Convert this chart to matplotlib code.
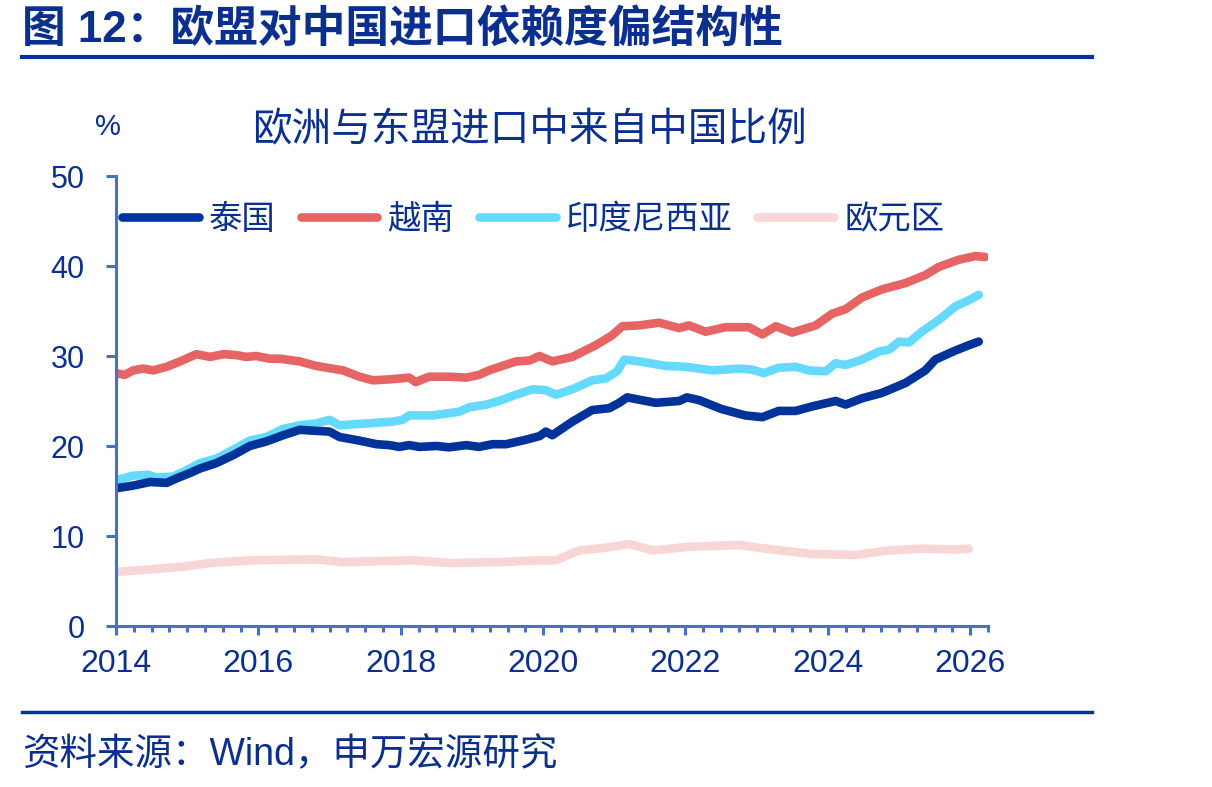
import matplotlib
matplotlib.use('Agg')
import matplotlib.pyplot as plt
from matplotlib.ticker import MultipleLocator
from matplotlib.lines import Line2D

plt.rcParams['font.family'] = ['Liberation Sans', 'Noto Sans CJK SC']

# values (decimal year, % of imports from China)
thai_x = [2014.0, 2014.24, 2014.48, 2014.71, 2014.85, 2015.04, 2015.18, 2015.41, 2015.65, 2015.88,
          2016.11, 2016.35, 2016.58, 2016.77, 2017.0, 2017.14, 2017.42, 2017.66, 2017.84, 2017.98,
          2018.12, 2018.26, 2018.5, 2018.68, 2018.92, 2019.1, 2019.29, 2019.48, 2019.76, 2019.95,
          2020.04, 2020.13, 2020.41, 2020.69, 2020.93, 2021.07, 2021.18, 2021.58, 2021.91, 2022.02,
          2022.19, 2022.51, 2022.84, 2023.08, 2023.31, 2023.55, 2023.78, 2024.11, 2024.25, 2024.48,
          2024.76, 2025.09, 2025.37, 2025.51, 2025.79, 2025.98, 2026.12]
thai_y = [15.3, 15.6, 16.0, 15.9, 16.4, 17.0, 17.5, 18.1, 19.0, 20.0,
          20.5, 21.2, 21.8, 21.7, 21.6, 21.0, 20.6, 20.2, 20.1, 19.9,
          20.1, 19.9, 20.0, 19.85, 20.1, 19.9, 20.2, 20.2, 20.7, 21.1,
          21.6, 21.2, 22.7, 24.0, 24.2, 24.8, 25.4, 24.8, 25.0, 25.4,
          25.1, 24.1, 23.4, 23.2, 23.9, 23.9, 24.4, 25.0, 24.6, 25.3,
          25.9, 27.0, 28.4, 29.6, 30.6, 31.2, 31.6]

vn_x = [2014.0, 2014.12, 2014.24, 2014.38, 2014.52, 2014.71, 2014.9, 2015.13, 2015.32, 2015.51,
        2015.69, 2015.83, 2015.97, 2016.16, 2016.3, 2016.58, 2016.81, 2017.19, 2017.42, 2017.61,
        2017.84, 2018.12, 2018.21, 2018.4, 2018.68, 2018.92, 2019.1, 2019.24, 2019.43, 2019.62,
        2019.81, 2019.95, 2020.13, 2020.41, 2020.74, 2020.97, 2021.11, 2021.35, 2021.63, 2021.91,
        2022.05, 2022.28, 2022.56, 2022.89, 2023.08, 2023.27, 2023.5, 2023.83, 2024.06, 2024.25,
        2024.48, 2024.76, 2025.09, 2025.37, 2025.56, 2025.84, 2026.07, 2026.21]
vn_y = [28.1, 27.9, 28.4, 28.6, 28.4, 28.8, 29.4, 30.2, 29.9, 30.2,
        30.1, 29.9, 30.0, 29.7, 29.7, 29.4, 28.9, 28.4, 27.7, 27.3,
        27.4, 27.6, 27.1, 27.7, 27.7, 27.6, 27.9, 28.4, 28.9, 29.4,
        29.5, 30.0, 29.4, 29.9, 31.2, 32.3, 33.3, 33.4, 33.7, 33.1,
        33.4, 32.7, 33.2, 33.2, 32.4, 33.3, 32.6, 33.4, 34.7, 35.2,
        36.5, 37.4, 38.1, 39.0, 39.9, 40.7, 41.1, 41.0]

idn_x = [2014.0, 2014.24, 2014.45, 2014.57, 2014.8, 2014.99, 2015.18, 2015.41, 2015.65, 2015.88,
         2016.11, 2016.35, 2016.58, 2016.81, 2017.0, 2017.14, 2017.5, 2017.88, 2018.02, 2018.12,
         2018.45, 2018.82, 2018.96, 2019.2, 2019.38, 2019.62, 2019.85, 2020.04, 2020.18, 2020.41,
         2020.69, 2020.88, 2021.04, 2021.14, 2021.35, 2021.72, 2022.0, 2022.38, 2022.75, 2022.93,
         2023.1, 2023.31, 2023.55, 2023.73, 2023.97, 2024.11, 2024.25, 2024.48, 2024.72, 2024.86,
         2025.0, 2025.14, 2025.32, 2025.56, 2025.79, 2025.98, 2026.12]
idn_y = [16.2, 16.7, 16.8, 16.5, 16.6, 17.3, 18.1, 18.6, 19.6, 20.6,
         21.0, 21.9, 22.3, 22.5, 22.9, 22.3, 22.5, 22.7, 22.9, 23.4,
         23.4, 23.8, 24.3, 24.6, 25.0, 25.7, 26.3, 26.2, 25.7, 26.3,
         27.3, 27.5, 28.3, 29.6, 29.4, 28.9, 28.8, 28.4, 28.6, 28.5,
         28.1, 28.7, 28.8, 28.4, 28.3, 29.2, 29.0, 29.6, 30.5, 30.7,
         31.6, 31.5, 32.7, 34.0, 35.5, 36.2, 36.8]

ez_x = [2014.0, 2014.48, 2014.95, 2015.32, 2015.88, 2016.81, 2017.19, 2018.17, 2018.68, 2019.38,
        2019.95, 2020.18, 2020.51, 2020.88, 2021.21, 2021.54, 2022.05, 2022.75, 2023.22, 2023.78,
        2024.39, 2024.86, 2025.32, 2025.79, 2025.98]
ez_y = [6.0, 6.3, 6.6, 7.0, 7.3, 7.4, 7.1, 7.3, 7.0, 7.1,
        7.3, 7.3, 8.4, 8.7, 9.1, 8.4, 8.8, 9.0, 8.5, 8.0,
        7.9, 8.4, 8.6, 8.5, 8.6]

names = ['泰国', '越南', '印度尼西亚', '欧元区']
colors = ['#003399', '#E66464', '#66D9FF', '#F8D6D6']

navy = '#0A2F8F'
spine = '#4472C4'

fig = plt.figure(figsize=(12.12, 7.87), dpi=100)
ax = fig.add_axes([116 / 1212, 1 - 626 / 787, (988 - 116) / 1212, (626 - 176) / 787])

series = [(thai_x, thai_y), (vn_x, vn_y), (idn_x, idn_y), (ez_x, ez_y)]
# draw euro area first so it sits underneath
for i in [3, 2, 1, 0]:
    xs, ys = series[i]
    ax.plot(xs, ys, color=colors[i], lw=6.2, solid_capstyle='round', solid_joinstyle='round')

ax.set_xlim(2014, 2026.25)
ax.set_ylim(0, 50)
ax.xaxis.set_major_locator(MultipleLocator(2))
ax.xaxis.set_minor_locator(MultipleLocator(0.25))
ax.yaxis.set_major_locator(MultipleLocator(10))
ax.xaxis.set_major_formatter(plt.FuncFormatter(lambda v, p: '%d' % round(v)))

for s in ['top', 'right']:
    ax.spines[s].set_visible(False)
for s in ['left', 'bottom']:
    ax.spines[s].set_color(spine)
    ax.spines[s].set_linewidth(2.2)
ax.tick_params(axis='both', which='major', color=spine, width=2.2, length=7.5,
               labelsize=22, labelcolor=navy)
ax.tick_params(axis='y', which='major', pad=15)
ax.tick_params(axis='x', which='major', length=6.5, pad=10, labelsize=23)
ax.tick_params(axis='x', which='minor', color=spine, width=2.2, length=4.5)

handles = [Line2D([], [], color=c, lw=6.2, solid_capstyle='round') for c in colors]
leg = ax.legend(handles, names, loc='center left', bbox_to_anchor=(0.007, 0.902), ncol=4,
                frameon=False, fontsize=24, handlelength=2.3, handletextpad=0.3,
                columnspacing=0.75, borderaxespad=0, borderpad=0)
for t in leg.get_texts():
    t.set_color(navy)

fig.text(22 / 1212, 1 - 30 / 787, '图 12：欧盟对中国进口依赖度偏结构性', fontsize=31.5,
         fontweight='bold', color=navy, ha='left', va='center')
fig.add_artist(Line2D([22 / 1212, 1092 / 1212], [1 - 57 / 787] * 2, color='#003399', lw=3))
fig.add_artist(Line2D([22 / 1212, 1092 / 1212], [1 - 712 / 787] * 2, color='#003399', lw=2.5))
fig.text(529 / 1212, 1 - 130 / 787, '欧洲与东盟进口中来自中国比例', fontsize=28.5,
         color=navy, ha='center', va='center')
fig.text(108 / 1212, 1 - 127 / 787, '%', fontsize=21, color=navy, ha='center', va='center')
fig.text(22 / 1212, 1 - 755 / 787, '资料来源：Wind，申万宏源研究', fontsize=27,
         color=navy, ha='left', va='center')

fig.savefig('out.png', dpi=100)
